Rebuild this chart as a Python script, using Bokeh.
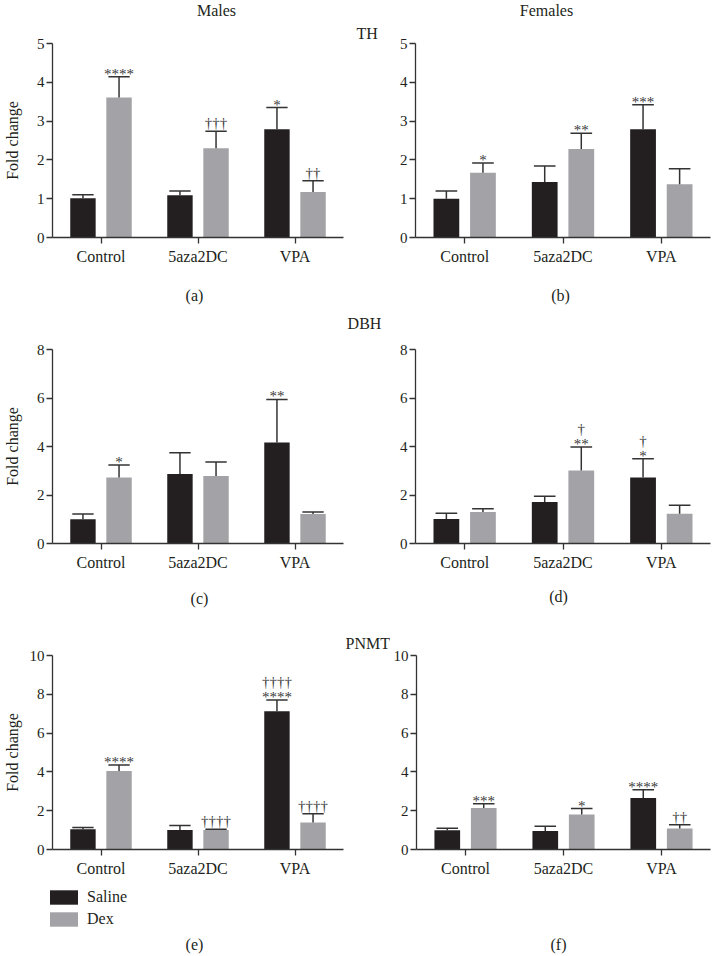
from bokeh.plotting import figure
from bokeh.models import (ColumnDataSource, FactorRange, Range1d, Label, Legend,
                          LegendItem, SingleIntervalTicker)
from bokeh.transform import dodge
from bokeh.layouts import row, column
from bokeh.core.properties import value
from bokeh.embed import file_html
from bokeh.resources import INLINE

FONT = "Liberation Serif"
INK = "#231f20"
SALINE_COLOR = "#231f20"
DEX_COLOR = "#a3a3a7"
ERR_COLOR = "#333333"

categories = ["Control", "5aza2DC", "VPA"]
groups = ["Saline", "Dex"]

# ---- (a) TH, males
a_saline = [1.01, 1.09, 2.79]
a_saline_sem = [0.09, 0.11, 0.56]
a_dex = [3.61, 2.30, 1.17]
a_dex_sem = [0.53, 0.44, 0.29]
a_saline_star = ["", "", "*"]
a_saline_dag = ["", "", ""]
a_dex_star = ["****", "", ""]
a_dex_dag = ["", "†††", "††"]

# ---- (b) TH, females
b_saline = [1.00, 1.43, 2.79]
b_saline_sem = [0.20, 0.41, 0.63]
b_dex = [1.67, 2.28, 1.37]
b_dex_sem = [0.25, 0.41, 0.40]
b_saline_star = ["", "", "***"]
b_saline_dag = ["", "", ""]
b_dex_star = ["*", "**", ""]
b_dex_dag = ["", "", ""]

# ---- (c) DBH, males
c_saline = [1.00, 2.87, 4.17]
c_saline_sem = [0.22, 0.87, 1.77]
c_dex = [2.72, 2.78, 1.22]
c_dex_sem = [0.52, 0.58, 0.08]
c_saline_star = ["", "", "**"]
c_saline_dag = ["", "", ""]
c_dex_star = ["*", "", ""]
c_dex_dag = ["", "", ""]

# ---- (d) DBH, females
d_saline = [1.01, 1.71, 2.72]
d_saline_sem = [0.24, 0.24, 0.78]
d_dex = [1.30, 3.01, 1.23]
d_dex_sem = [0.13, 0.97, 0.35]
d_saline_star = ["", "", "*"]
d_saline_dag = ["", "", "†"]
d_dex_star = ["", "**", ""]
d_dex_dag = ["", "†", ""]

# ---- (e) PNMT, males
e_saline = [1.05, 1.00, 7.13]
e_saline_sem = [0.08, 0.24, 0.57]
e_dex = [4.05, 1.01, 1.39]
e_dex_sem = [0.30, 0.04, 0.45]
e_saline_star = ["", "", "****"]
e_saline_dag = ["", "", "††††"]
e_dex_star = ["****", "", ""]
e_dex_dag = ["", "††††", "††††"]

# ---- (f) PNMT, females
f_saline = [0.99, 0.96, 2.65]
f_saline_sem = [0.11, 0.24, 0.43]
f_dex = [2.14, 1.80, 1.08]
f_dex_sem = [0.22, 0.31, 0.20]
f_saline_star = ["", "", "****"]
f_saline_dag = ["", "", ""]
f_dex_star = ["***", "*", ""]
f_dex_dag = ["", "", "††"]

# ---- heading / caption texts
sex_titles = ["Males", "Females"]
gene_titles = ["TH", "DBH", "PNMT"]
panel_tags = ["(a)", "(b)", "(c)", "(d)", "(e)", "(f)"]

OFFSET = 0.186
BAR_W = 0.262
CAP = 0.11
W_LEFT, W_RIGHT = 390, 328
TOTAL_W = W_LEFT + W_RIGHT


def make_panel(sal, sal_sem, dex, dex_sem, s_star, s_dag, d_star, d_dag,
               ymax, step, geom, ylabel=None, ylabel_standoff=5,
               title=None, title_offset=0, title_standoff=4):
    width, height, bl, br, bt, bb = geom
    p = figure(x_range=FactorRange(factors=categories, range_padding=0),
               y_range=Range1d(0, ymax), width=width, height=height,
               min_border_left=bl, min_border_right=br, min_border_top=bt,
               min_border_bottom=bb, output_backend="svg", toolbar_location=None)
    p.xgrid.visible = False
    p.ygrid.visible = False
    p.outline_line_color = None
    if title:
        p.title.text = title
        p.title.align = "left"
        p.title.offset = title_offset
        p.title.standoff = title_standoff
        p.title.text_font = FONT
        p.title.text_font_size = "16px"
        p.title.text_font_style = "normal"
        p.title.text_color = INK

    for ax in (p.xaxis[0], p.yaxis[0]):
        ax.axis_line_color = "#333333"
        ax.axis_line_width = 1.3
        ax.major_tick_line_color = "#333333"
        ax.major_tick_line_width = 1.3
        ax.major_tick_out = 6
        ax.major_tick_in = 0
        ax.minor_tick_out = 0
        ax.minor_tick_in = 0
        ax.major_label_text_font = FONT
        ax.major_label_text_color = INK
    p.xaxis.major_label_text_font_size = "16px"
    p.xaxis.major_label_standoff = 4
    p.yaxis.major_label_text_font_size = "15px"
    p.yaxis.major_label_standoff = 2
    p.yaxis.ticker = SingleIntervalTicker(interval=step)
    if ylabel:
        p.yaxis.axis_label = ylabel
        p.yaxis.axis_label_text_font = FONT
        p.yaxis.axis_label_text_font_size = "16px"
        p.yaxis.axis_label_text_font_style = "normal"
        p.yaxis.axis_label_text_color = INK
        p.yaxis.axis_label_standoff = ylabel_standoff

    def lines(star, dag):
        low = [s if s else d for s, d in zip(star, dag)]
        high = [d if s else "" for s, d in zip(star, dag)]
        low_off = [-3 if s else -8 for s in star]
        return low, high, low_off

    sl, sh, so = lines(s_star, s_dag)
    dl, dh, do = lines(d_star, d_dag)
    src = ColumnDataSource(dict(
        cat=categories,
        sal=sal, sal_up=[m + e for m, e in zip(sal, sal_sem)],
        dex=dex, dex_up=[m + e for m, e in zip(dex, dex_sem)],
        s_low=sl, s_high=sh, s_off=so,
        d_low=dl, d_high=dh, d_off=do,
    ))

    for key, off, color in (("sal", -OFFSET, SALINE_COLOR), ("dex", OFFSET, DEX_COLOR)):
        p.vbar(x=dodge("cat", off, range=p.x_range), top=key, width=BAR_W,
               source=src, fill_color=color, line_color=None)
        p.segment(x0=dodge("cat", off, range=p.x_range), x1=dodge("cat", off, range=p.x_range),
                  y0=key, y1=key + "_up", source=src, line_color=ERR_COLOR, line_width=1.5)
        p.segment(x0=dodge("cat", off - CAP, range=p.x_range),
                  x1=dodge("cat", off + CAP, range=p.x_range),
                  y0=key + "_up", y1=key + "_up", source=src,
                  line_color=ERR_COLOR, line_width=1.5)
        pre = "s" if key == "sal" else "d"
        p.text(x=dodge("cat", off, range=p.x_range), y=key + "_up", text=pre + "_low",
               y_offset=pre + "_off", source=src, text_align="center",
               text_baseline="alphabetic", text_font=value(FONT),
               text_font_size="15px", text_color="#3a3a3a")
        p.text(x=dodge("cat", off, range=p.x_range), y=key + "_up", text=pre + "_high",
               y_offset=-18, source=src, text_align="center",
               text_baseline="alphabetic", text_font=value(FONT),
               text_font_size="15px", text_color="#3a3a3a")
    return p


def strip(height, labels):
    s = figure(width=TOTAL_W, height=height, x_range=Range1d(0, TOTAL_W),
               y_range=Range1d(height, 0), min_border=0,
               x_axis_location=None, y_axis_location=None,
               output_backend="svg", toolbar_location=None)
    s.outline_line_color = None
    s.xgrid.visible = False
    s.ygrid.visible = False
    for text, x, y in labels:
        s.add_layout(Label(x=x, y=y, text=text, text_align="center",
                           text_baseline="middle", text_font=FONT,
                           text_font_size="16px", text_color=INK))
    return s


# panel canvases: (width, height, border left, right, top, bottom)
pa = make_panel(a_saline, a_saline_sem, a_dex, a_dex_sem, a_saline_star, a_saline_dag,
                a_dex_star, a_dex_dag, 5, 1, (W_LEFT, 255, 49, 47, 22, 38),
                ylabel="Fold change", ylabel_standoff=13,
                title=gene_titles[0], title_offset=304, title_standoff=4)
pb = make_panel(b_saline, b_saline_sem, b_dex, b_dex_sem, b_saline_star, b_saline_dag,
                b_dex_star, b_dex_dag, 5, 1, (W_RIGHT, 255, 25, 8, 22, 38))
pc = make_panel(c_saline, c_saline_sem, c_dex, c_dex_sem, c_saline_star, c_saline_dag,
                c_dex_star, c_dex_dag, 8, 2, (W_LEFT, 247, 49, 47, 16, 37),
                ylabel="Fold change", ylabel_standoff=13)
pd_ = make_panel(d_saline, d_saline_sem, d_dex, d_dex_sem, d_saline_star, d_saline_dag,
                 d_dex_star, d_dex_dag, 8, 2, (W_RIGHT, 247, 25, 8, 9, 37))
pe = make_panel(e_saline, e_saline_sem, e_dex, e_dex_sem, e_saline_star, e_saline_dag,
                e_dex_star, e_dex_dag, 10, 2, (W_LEFT, 265, 49, 47, 40, 31),
                ylabel="Fold change", ylabel_standoff=6,
                title=gene_titles[2], title_offset=293, title_standoff=8)
pf = make_panel(f_saline, f_saline_sem, f_dex, f_dex_sem, f_saline_star, f_saline_dag,
                f_dex_star, f_dex_dag, 10, 2, (W_RIGHT, 265, 23, 8, 40, 31))

s0 = strip(20, [(sex_titles[0], 216, 10), (sex_titles[1], 546, 10)])
s1 = strip(58, [(panel_tags[0], 194, 20), (panel_tags[1], 560, 20),
                (gene_titles[1], 364, 48)])
s2 = strip(35, [(panel_tags[2], 199, 18), (panel_tags[3], 558, 16)])
s3 = strip(74, [(panel_tags[4], 194, 64), (panel_tags[5], 558, 64)])

# legend swatches: zero-size proxy bars that only lend their style to the legend
leg_src = ColumnDataSource(dict(x=[0], top=[0]))
sw_sal = s3.vbar(x="x", top="top", width=0, source=leg_src,
                 fill_color=SALINE_COLOR, line_color=None)
sw_dex = s3.vbar(x="x", top="top", width=0, source=leg_src,
                 fill_color=DEX_COLOR, line_color=None)
legend = Legend(items=[LegendItem(label=groups[0], renderers=[sw_sal]),
                       LegendItem(label=groups[1], renderers=[sw_dex])],
                location=(46, 26), orientation="vertical",
                border_line_color=None, background_fill_alpha=0,
                padding=0, margin=0, spacing=4,
                glyph_width=35, glyph_height=18, label_height=18,
                label_standoff=6, label_text_font=FONT,
                label_text_font_size="16px", label_text_color=INK)
s3.add_layout(legend)

layout = column(s0, row(pa, pb), s1, row(pc, pd_), s2, row(pe, pf), s3)

with open("out.html", "w") as fh:
    fh.write(file_html(layout, INLINE))
